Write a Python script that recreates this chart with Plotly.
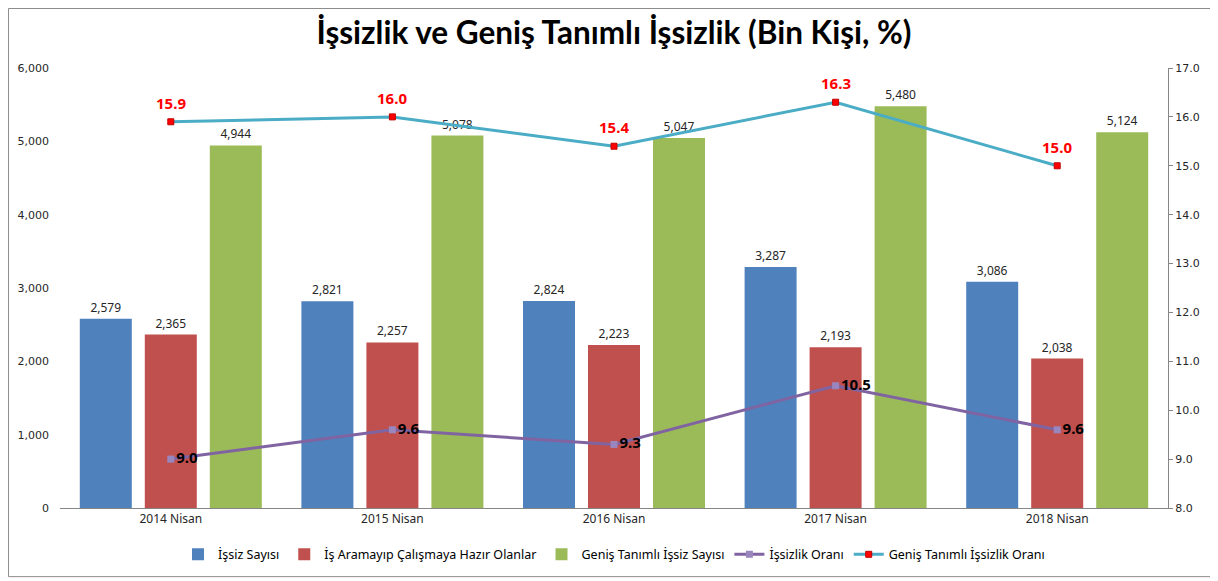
import plotly.graph_objects as go

categories = ["2014 Nisan", "2015 Nisan", "2016 Nisan", "2017 Nisan", "2018 Nisan"]
issiz_sayisi = [2579, 2821, 2824, 3287, 3086]
is_aramayip = [2365, 2257, 2223, 2193, 2038]
genis_issiz_sayisi = [4944, 5078, 5047, 5480, 5124]
issizlik_orani = [9.0, 9.6, 9.3, 10.5, 9.6]
genis_issizlik_orani = [15.9, 16.0, 15.4, 16.3, 15.0]

FONT = "Noto Sans"
TICKFONT = "DejaVu Sans"
TXT = "#262626"
fig = go.Figure()

def bar(name, vals, color):
    fig.add_trace(go.Bar(
        x=categories, y=vals, name=name, marker=dict(color=color, line=dict(width=0)),
        text=[f"{v:,}" for v in vals], textposition="outside",
        textfont=dict(size=12, color=TXT, family=FONT), cliponaxis=False,
    ))

bar("İşsiz Sayısı", issiz_sayisi, "#4F81BD")
bar("İş Aramayıp Çalışmaya Hazır Olanlar", is_aramayip, "#C0504D")
bar("Geniş Tanımlı İşsiz Sayısı", genis_issiz_sayisi, "#9BBB59")

fig.add_trace(go.Scatter(
    x=categories, y=issizlik_orani, name="İşsizlik Oranı", yaxis="y2",
    mode="lines+markers+text",
    line=dict(color="#8064A2", width=3),
    marker=dict(symbol="square", size=7, color="#9A86BE"),
    text=[f"{v:.1f}" for v in issizlik_orani], textposition="middle right",
    textfont=dict(size=15, color="#000000", family=FONT, weight="bold"),
    cliponaxis=False,
))
fig.add_trace(go.Scatter(
    x=categories, y=genis_issizlik_orani, name="Geniş Tanımlı İşsizlik Oranı", yaxis="y2",
    mode="lines+markers",
    line=dict(color="#4BACC6", width=3),
    marker=dict(symbol="square", size=6, color="#FF0000", line=dict(color="#C00000", width=1)),
    cliponaxis=False,
))
for c, v in zip(categories, genis_issizlik_orani):
    fig.add_annotation(x=c, y=v, xref="x", yref="y2", text=f"{v:.1f}", showarrow=False,
                       yshift=19, font=dict(size=15, color="#FF0000", family=FONT, weight="bold"))

fig.add_shape(type="rect", xref="paper", yref="paper", x0=-0.0465, x1=1.0400, y0=-0.156, y1=1.1352,
              line=dict(color="#8C8C8C", width=1), layer="below")

fig.update_layout(
    width=1210, height=573,
    margin=dict(l=52, r=50, t=60, b=73, autoexpand=False),
    paper_bgcolor="white", plot_bgcolor="white",
    title=dict(text="<b>İşsizlik ve Geniş Tanımlı İşsizlik (Bin Kişi, %)</b>",
               x=0.5, xref="paper", y=0.956, yanchor="middle",
               font=dict(family="Lato", size=31.5, color="#000000")),
    barmode="group", bargap=0.12, bargroupgap=0.2,
    font=dict(family=FONT, size=11, color=TXT),
    xaxis=dict(showline=True, linecolor="#868686", linewidth=1, ticks="", showgrid=False,
               automargin=False, tickfont=dict(size=12, color=TXT, family=FONT)),
    yaxis=dict(range=[0, 6000], dtick=1000, tickformat=",", showgrid=False, showline=False,
               zeroline=False, ticks="", automargin=False,
               tickfont=dict(size=11, color=TXT, family=TICKFONT), ticklabelstandoff=10),
    yaxis2=dict(range=[8, 17], dtick=1, tickformat=".1f", overlaying="y", side="right",
                showgrid=False, showline=True, linecolor="#868686", linewidth=1, zeroline=False,
                ticks="outside", ticklen=4, tickcolor="#868686", automargin=False,
                tickfont=dict(size=11, color=TXT, family=TICKFONT)),
    legend=dict(orientation="h", x=0.5, xanchor="center", y=-0.072, yanchor="top",
                font=dict(size=12.5, color="#000000", family=FONT), itemwidth=30,
                traceorder="normal"),
    showlegend=True,
)

fig.write_html("out.html")
